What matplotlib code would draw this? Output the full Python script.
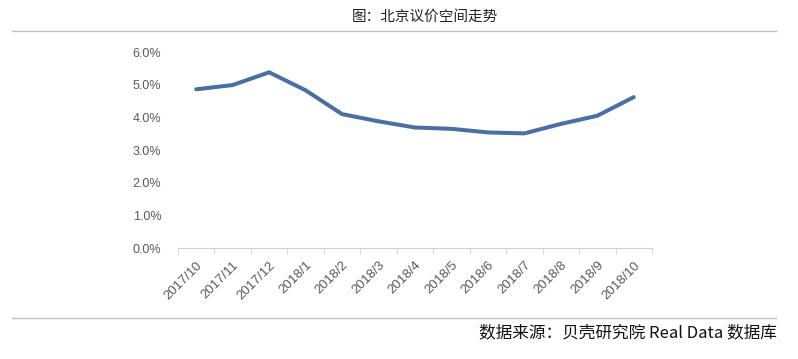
import matplotlib.pyplot as plt
import numpy as np

plt.rcParams['font.family'] = ['Noto Sans CJK SC', 'DejaVu Sans']

months = ['2017/10', '2017/11', '2017/12', '2018/1', '2018/2', '2018/3', '2018/4',
          '2018/5', '2018/6', '2018/7', '2018/8', '2018/9', '2018/10']
spread = [4.86, 4.99, 5.38, 4.83, 4.10, 3.88, 3.69, 3.65, 3.54, 3.51, 3.80, 4.05, 4.62]
yticks = [0, 1, 2, 3, 4, 5, 6]

fig = plt.figure(figsize=(7.98, 3.59), dpi=100)
ax = fig.add_axes([0.223, 0.309, 0.594, 0.546])

x = np.arange(len(months))
ax.plot(x, spread, color='#4a6fa3', linewidth=2.9, solid_capstyle='round')

ax.set_xlim(-0.5, len(months) - 0.5)
ax.set_ylim(0, 6)
ax.set_yticks(yticks)
ax.set_yticklabels(['%.1f%%' % v for v in yticks], fontsize=9, color='#595959',
                   family='Liberation Sans')
ax.set_xticks(x)
ax.set_xticklabels(months, rotation=45, ha='right', rotation_mode='anchor',
                   fontsize=9.5, color='#595959', family='Liberation Sans')
ax.set_xticks(np.arange(len(months) + 1) - 0.5, minor=True)
ax.tick_params(axis='x', which='major', length=0, pad=8)
ax.tick_params(axis='x', which='minor', length=4, color='#d0d0d0', direction='out')
ax.tick_params(axis='y', length=0, pad=12)

for s in ['top', 'right', 'left']:
    ax.spines[s].set_visible(False)
ax.spines['bottom'].set_color('#d0d0d0')

fig.text(0.533, 0.952, '图：北京议价空间走势', ha='center', va='center', fontsize=10.5,
         color='#222222')
fig.add_artist(plt.Line2D([0.015, 0.972], [0.914, 0.914], color='#bfbfbf', linewidth=1))
fig.add_artist(plt.Line2D([0.015, 0.972], [0.114, 0.114], color='#bfbfbf', linewidth=1))
fig.text(0.974, 0.072, '数据来源：贝壳研究院 Real Data 数据库', ha='right', va='center',
         fontsize=12, color='#111111')

fig.savefig('out.png', dpi=100)
